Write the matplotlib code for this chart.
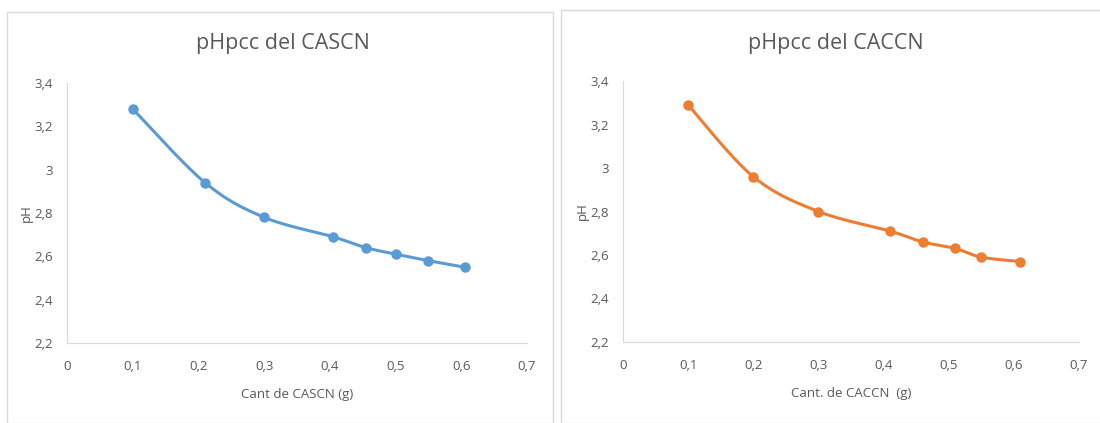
import numpy as np
import matplotlib
matplotlib.use('Agg')
import matplotlib.pyplot as plt
from matplotlib.patches import Rectangle
from matplotlib.ticker import FuncFormatter

plt.rcParams['font.family'] = ['Open Sans', 'DejaVu Sans']

# datos
cascn_x = [0.10, 0.21, 0.30, 0.405, 0.455, 0.50, 0.55, 0.605]
cascn_ph = [3.28, 2.94, 2.78, 2.69, 2.64, 2.61, 2.58, 2.55]

caccn_x = [0.10, 0.20, 0.30, 0.41, 0.46, 0.51, 0.55, 0.61]
caccn_ph = [3.29, 2.96, 2.80, 2.71, 2.66, 2.63, 2.59, 2.57]

x_ticks = [0, 0.1, 0.2, 0.3, 0.4, 0.5, 0.6, 0.7]
y_ticks = [2.2, 2.4, 2.6, 2.8, 3.0, 3.2, 3.4]

titles = ['pHpcc del CASCN', 'pHpcc del CACCN']
xlabels = ['Cant de CASCN (g)', 'Cant. de CACCN  (g)']
colors = ['#5B9BD5', '#ED7D31']

txt = '#595959'
grid_c = '#D9D9D9'


def smooth(x, y, n=30):
    # curva suavizada tipo Excel (bezier con puntos de control Catmull-Rom)
    x = np.asarray(x, float)
    y = np.asarray(y, float)
    px = np.concatenate([[x[0]], x, [x[-1]]])
    py = np.concatenate([[y[0]], y, [y[-1]]])
    xs, ys = [], []
    t = np.linspace(0, 1, n)
    for i in range(1, len(px) - 2):
        p0 = np.array([px[i], py[i]])
        p3 = np.array([px[i + 1], py[i + 1]])
        p1 = p0 + (np.array([px[i + 1], py[i + 1]]) - np.array([px[i - 1], py[i - 1]])) / 6
        p2 = p3 - (np.array([px[i + 2], py[i + 2]]) - np.array([px[i], py[i]])) / 6
        b = ((1 - t) ** 3)[:, None] * p0 + (3 * (1 - t) ** 2 * t)[:, None] * p1 \
            + (3 * (1 - t) * t ** 2)[:, None] * p2 + (t ** 3)[:, None] * p3
        xs.extend(b[:, 0])
        ys.extend(b[:, 1])
    return xs, ys


fmt = FuncFormatter(lambda v, p: ('%g' % round(v, 2)).replace('.', ','))

fig = plt.figure(figsize=(11, 4.23), dpi=100)

# marcos de los dos graficos
fig.patches.append(Rectangle((7 / 1100, 0), 546 / 1100, 1 - 12 / 423,
                             transform=fig.transFigure, fill=False,
                             edgecolor=grid_c, lw=1))
fig.patches.append(Rectangle((561 / 1100, 0), 560 / 1100, 1 - 10 / 423,
                             transform=fig.transFigure, fill=False,
                             edgecolor=grid_c, lw=1))

axes_pos = [[67 / 1100, 0.189, 460 / 1100, 0.615],
            [623 / 1100, 0.1915, 456 / 1100, 0.617]]
data = [(cascn_x, cascn_ph), (caccn_x, caccn_ph)]
centers = [283 / 1100, 836 / 1100]

for k in range(2):
    ax = fig.add_axes(axes_pos[k])
    xd, yd = data[k]
    sx, sy = smooth(xd, yd)
    ax.plot(sx, sy, color=colors[k], lw=2.2, solid_capstyle='round')
    ax.plot(xd, yd, 'o', color=colors[k], ms=6.5)
    ax.set_xlim(0, 0.7)
    ax.set_ylim(2.2, 3.4)
    ax.set_xticks(x_ticks)
    ax.set_yticks(y_ticks)
    ax.xaxis.set_major_formatter(fmt)
    ax.yaxis.set_major_formatter(fmt)
    ax.tick_params(length=0, colors=txt, labelsize=9.5, pad=12)
    ax.tick_params(axis='y', pad=10)
    for s in ['top', 'right']:
        ax.spines[s].set_visible(False)
    for s in ['left', 'bottom']:
        ax.spines[s].set_color(grid_c)
    ax.set_xlabel(xlabels[k], color=txt, fontsize=9.5, labelpad=11)
    ax.set_ylabel('pH', color=txt, fontsize=9.5, labelpad=1)
    fig.text(centers[k], 1 - 44 / 423, titles[k], ha='center', va='center',
             color=txt, fontsize=15.5)

fig.savefig('out.png', dpi=100)
